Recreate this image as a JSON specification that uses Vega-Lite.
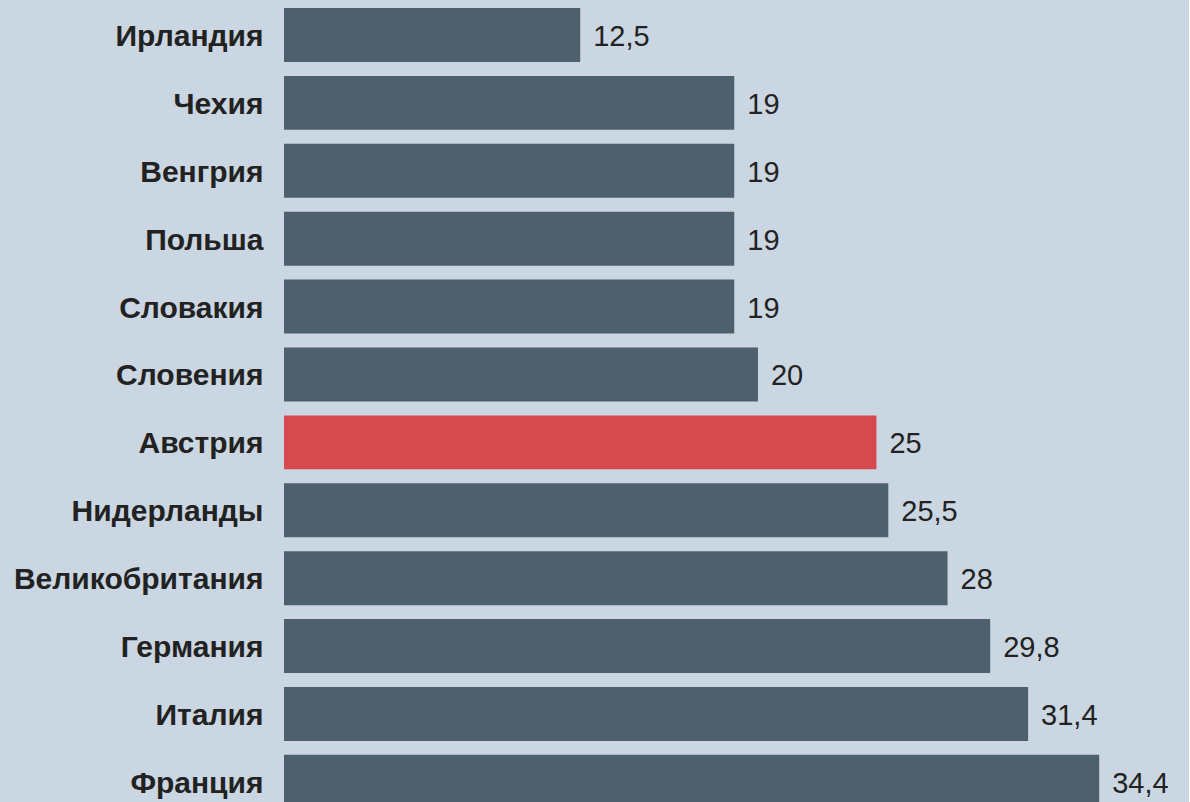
{
  "$schema": "https://vega.github.io/schema/vega-lite/v6.json",
  "autosize": "none",
  "width": 905,
  "height": 802,
  "padding": {"left": 284, "top": 0, "right": 0, "bottom": 0},
  "background": "#cad6e1",
  "config": {"view": {"stroke": null}, "font": "Liberation Sans"},
  "data": {"values": [
    {"country": "Ирландия", "value": 12.5, "label": "12,5", "hl": "no"},
    {"country": "Чехия", "value": 19, "label": "19", "hl": "no"},
    {"country": "Венгрия", "value": 19, "label": "19", "hl": "no"},
    {"country": "Польша", "value": 19, "label": "19", "hl": "no"},
    {"country": "Словакия", "value": 19, "label": "19", "hl": "no"},
    {"country": "Словения", "value": 20, "label": "20", "hl": "no"},
    {"country": "Австрия", "value": 25, "label": "25", "hl": "yes"},
    {"country": "Нидерланды", "value": 25.5, "label": "25,5", "hl": "no"},
    {"country": "Великобритания", "value": 28, "label": "28", "hl": "no"},
    {"country": "Германия", "value": 29.8, "label": "29,8", "hl": "no"},
    {"country": "Италия", "value": 31.4, "label": "31,4", "hl": "no"},
    {"country": "Франция", "value": 34.4, "label": "34,4", "hl": "no"}
  ]},
  "encoding": {
    "y": {
      "field": "country", "type": "nominal", "sort": null,
      "scale": {"range": [1.04, 815.8], "paddingInner": 0.205, "paddingOuter": 0.1025},
      "axis": {"title": null, "domain": false, "ticks": false, "labelPadding": 21,
               "labelFontSize": 30, "labelFontWeight": "bold", "labelColor": "#222222",
               "labelFont": "Liberation Sans", "labelBaseline": "middle", "labelOffset": 2,
               "labelLimit": 0}
    },
    "x": {
      "field": "value", "type": "quantitative",
      "scale": {"domain": [0, 38.19], "nice": false, "zero": true},
      "axis": null
    }
  },
  "layer": [
    {
      "mark": {"type": "bar"},
      "encoding": {
        "color": {"field": "hl", "type": "nominal",
                  "scale": {"domain": ["no", "yes"], "range": ["#4e606d", "#d5494f"]},
                  "legend": null}
      }
    },
    {
      "mark": {"type": "text", "align": "left", "baseline": "middle", "dx": 13, "dy": 2,
               "fontSize": 29, "font": "Liberation Sans", "color": "#222222"},
      "encoding": {"text": {"field": "label", "type": "nominal"}}
    }
  ]
}
